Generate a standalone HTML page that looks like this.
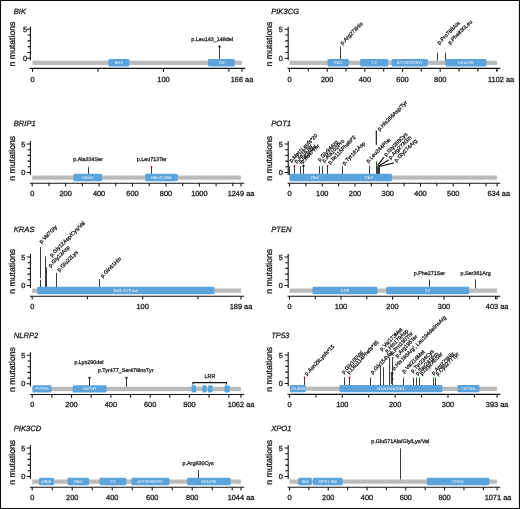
<!DOCTYPE html>
<html><head><meta charset="utf-8"><title>Lollipop plots</title>
<style>
html,body{margin:0;padding:0;background:#fff;}
svg{display:block;will-change:transform;text-rendering:geometricPrecision;font-family:"Liberation Sans",sans-serif;}
.ti{font-size:7.6px;font-style:italic;fill:#1a1a1a;stroke:#1a1a1a;stroke-width:0.3px;}
.yl{font-size:8.7px;fill:#1a1a1a;stroke:#1a1a1a;stroke-width:0.3px;}
.tk{font-size:7.4px;fill:#1a1a1a;stroke:#1a1a1a;stroke-width:0.3px;}
.lb{font-size:5.4px;fill:#1a1a1a;stroke:#1a1a1a;stroke-width:0.27px;}
.dm{font-size:4.2px;fill:#fff;fill-opacity:0.9;}
.ax{stroke:#111;stroke-width:1.08;fill:none;}
.st{stroke:#3a3a3a;stroke-width:1.05;fill:none;}
.cn{stroke:#111;stroke-width:1.15;fill:none;}
</style></head><body>
<svg width="520" height="509" viewBox="0 0 520 509">
<rect x="0" y="0" width="520" height="509" fill="#fff"/>
<g>
<text x="13.8" y="13.55" class="ti">BIK</text>
<text transform="translate(15.4,44) rotate(-90)" class="yl" text-anchor="middle">n mutations</text>
<path class="ax" d="M30.4 26.65V60.25"/>
<path class="ax" d="M30.4 58.25h-3.6M30.4 52.45h-2.9M30.4 46.65h-2.9M30.4 40.85h-2.9M30.4 35.05h-2.9M30.4 29.25h-3.6"/>
<text x="27.1" y="32.15" class="tk" text-anchor="end">5</text>
<text x="27.1" y="60.85" class="tk" text-anchor="end">0</text>
<path class="st" d="M219.5 46.65V60.85"/>
<rect x="32.5" y="60.65" width="209.5" height="4.3" fill="#bcbbbc"/>
<rect x="108.44" y="59" width="20.95" height="7.4" rx="1.3" fill="#5ba3dd"/>
<text x="118.92" y="64.2" class="dm" text-anchor="middle">BH3</text>
<rect x="207.96" y="59" width="26.84" height="7.4" rx="1.3" fill="#5ba3dd"/>
<text x="221.38" y="64.2" class="dm" text-anchor="middle">TM</text>
<circle cx="219.5" cy="46.65" r="1.15" fill="#111"/>
<path class="ax" d="M29.8 68.4H245.2"/>
<text x="32.5" y="81.85" class="tk" text-anchor="middle">0</text>
<text x="97.97" y="81.85" class="tk" text-anchor="middle"></text>
<text x="163.44" y="81.85" class="tk" text-anchor="middle">100</text>
<text x="228.91" y="81.85" class="tk" text-anchor="middle"></text>
<text x="242" y="81.85" class="tk" text-anchor="middle">166 aa</text>
<path class="ax" d="M32.5 68.4v3.3M97.97 68.4v3.3M163.44 68.4v3.3M228.91 68.4v3.3M242 68.4v3.3"/>
<text x="212" y="40.65" class="lb" text-anchor="middle">p.Leu143_148del</text>

</g>
<g>
<text x="271.2" y="13.55" class="ti">PIK3CG</text>
<text transform="translate(272.3,44) rotate(-90)" class="yl" text-anchor="middle">n mutations</text>
<path class="ax" d="M288.2 26.65V60.25"/>
<path class="ax" d="M288.2 58.25h-3.6M288.2 52.45h-2.9M288.2 46.65h-2.9M288.2 40.85h-2.9M288.2 35.05h-2.9M288.2 29.25h-3.6"/>
<text x="282.8" y="32.15" class="tk" text-anchor="end">5</text>
<text x="282.8" y="60.85" class="tk" text-anchor="end">0</text>
<path class="st" d="M340.5 46.65V60.85"/>
<path class="st" d="M437.5 52.45V60.85"/>
<path class="st" d="M445.5 52.45V60.85"/>
<rect x="289.5" y="60.65" width="207.6" height="4.3" fill="#bcbbbc"/>
<rect x="327.55" y="59" width="21.29" height="7.4" rx="1.3" fill="#5ba3dd"/>
<text x="338.2" y="64.2" class="dm" text-anchor="middle">RBD</text>
<rect x="360.14" y="59" width="28.07" height="7.4" rx="1.3" fill="#5ba3dd"/>
<text x="374.18" y="64.2" class="dm" text-anchor="middle">C2</text>
<rect x="391.6" y="59" width="36.36" height="7.4" rx="1.3" fill="#5ba3dd"/>
<text x="409.78" y="64.2" class="dm" text-anchor="middle">ACCESSORY</text>
<rect x="445.48" y="59" width="41.07" height="7.4" rx="1.3" fill="#5ba3dd"/>
<text x="466.02" y="64.2" class="dm" text-anchor="middle">KINASE</text>
<path d="M340.5 46.35v1.5" stroke="#3fa535" stroke-width="0.9" opacity="0.8"/>
<path d="M437.5 52.15v1.5" stroke="#3fa535" stroke-width="0.9" opacity="0.8"/>
<path d="M445.5 52.15v1.5" stroke="#3fa535" stroke-width="0.9" opacity="0.8"/>
<path class="ax" d="M287.6 68.4H500.3"/>
<text x="289.5" y="81.85" class="tk" text-anchor="middle">0</text>
<text x="327.18" y="81.85" class="tk" text-anchor="middle">200</text>
<text x="364.85" y="81.85" class="tk" text-anchor="middle">400</text>
<text x="402.53" y="81.85" class="tk" text-anchor="middle">600</text>
<text x="440.21" y="81.85" class="tk" text-anchor="middle">800</text>
<text x="501.1" y="81.85" class="tk" text-anchor="middle">1102 aa</text>
<path class="ax" d="M289.5 68.4v3.3M327.18 68.4v3.3M364.85 68.4v3.3M402.53 68.4v3.3M440.21 68.4v3.3M497.1 68.4v3.3M308.34 68.4v3.1M346.02 68.4v3.1M383.69 68.4v3.1M421.37 68.4v3.1M459.05 68.4v3.1M477.88 68.4v3.1M496.72 68.4v3.1"/>
<text transform="translate(342.3,45.1) rotate(-45)" class="lb">p.Arg273His</text>
<text transform="translate(439.2,44.7) rotate(-45)" class="lb">p.Pro788Ala</text>
<text transform="translate(449.9,44.7) rotate(-45)" class="lb">p.Phe830Leu</text>

</g>
<g>
<text x="13.8" y="126.4" class="ti">BRIP1</text>
<text transform="translate(15.4,158.25) rotate(-90)" class="yl" text-anchor="middle">n mutations</text>
<path class="ax" d="M30.4 140.9V175.1"/>
<path class="ax" d="M30.4 172.5h-3.6M30.4 166.8h-2.9M30.4 161.1h-2.9M30.4 155.4h-2.9M30.4 149.7h-2.9M30.4 144h-3.6"/>
<text x="25.3" y="146.9" class="tk" text-anchor="end">5</text>
<text x="25.3" y="175.1" class="tk" text-anchor="end">0</text>
<path class="st" d="M88.5 166.8V175.7"/>
<path class="st" d="M151.5 166.8V175.7"/>
<rect x="32.2" y="175.5" width="208.8" height="4.3" fill="#bcbbbc"/>
<rect x="73.49" y="173.85" width="28.59" height="7.4" rx="1.3" fill="#5ba3dd"/>
<text x="87.79" y="179.05" class="dm" text-anchor="middle">DEAD</text>
<rect x="145.21" y="173.85" width="32.43" height="7.4" rx="1.3" fill="#5ba3dd"/>
<text x="161.43" y="179.05" class="dm" text-anchor="middle">HELICASE</text>
<path d="M88.5 166.5v1.5" stroke="#3fa535" stroke-width="0.9" opacity="0.8"/>
<circle cx="151.5" cy="166.8" r="0.9" fill="#8a1538"/>
<path class="ax" d="M29.8 183.25H244.2"/>
<text x="32.2" y="196.1" class="tk" text-anchor="middle">0</text>
<text x="65.63" y="196.1" class="tk" text-anchor="middle">200</text>
<text x="99.07" y="196.1" class="tk" text-anchor="middle">400</text>
<text x="132.5" y="196.1" class="tk" text-anchor="middle">600</text>
<text x="165.94" y="196.1" class="tk" text-anchor="middle">800</text>
<text x="199.37" y="196.1" class="tk" text-anchor="middle">1000</text>
<text x="241" y="196.1" class="tk" text-anchor="middle">1249 aa</text>
<path class="ax" d="M32.2 183.25v3.3M65.63 183.25v3.3M99.07 183.25v3.3M132.5 183.25v3.3M165.94 183.25v3.3M199.37 183.25v3.3M241 183.25v3.3M48.92 183.25v3.1M82.35 183.25v3.1M115.79 183.25v3.1M149.22 183.25v3.1M182.66 183.25v3.1M216.09 183.25v3.1M232.81 183.25v3.1"/>
<text x="88" y="160.65" class="lb" text-anchor="middle">p.Ala334Ser</text>
<text x="151.8" y="160.65" class="lb" text-anchor="middle">p.Leu713Ter</text>

</g>
<g>
<text x="271.2" y="126.2" class="ti">POT1</text>
<text transform="translate(272.3,158.25) rotate(-90)" class="yl" text-anchor="middle">n mutations</text>
<path class="ax" d="M288.2 140.9V175.1"/>
<path class="ax" d="M288.2 172.5h-3.6M288.2 166.8h-2.9M288.2 161.1h-2.9M288.2 155.4h-2.9M288.2 149.7h-2.9M288.2 144h-3.6"/>
<text x="282.8" y="146.9" class="tk" text-anchor="end">5</text>
<text x="282.8" y="175.1" class="tk" text-anchor="end">0</text>
<path class="st" d="M289.5 165.94V175.7"/>
<path class="st" d="M294.5 165.94V175.7"/>
<path class="st" d="M300.5 165.94V175.7"/>
<path class="st" d="M303.5 165.94V175.7"/>
<path class="st" d="M319.5 165.94V175.7"/>
<path class="st" d="M322.5 165.94V175.7"/>
<path class="st" d="M327.5 165.94V175.7"/>
<path class="st" d="M342.5 165.94V175.7"/>
<path class="st" d="M369.5 165.94V175.7"/>
<path class="st" d="M376.5 161.1V175.7"/>
<path class="st" d="M377.5 165.94V175.7"/>
<path class="st" d="M378.5 165.94V175.7"/>
<path class="st" d="M379.5 165.94V175.7"/>
<rect x="289.5" y="175.5" width="207.6" height="4.3" fill="#bcbbbc"/>
<rect x="289.5" y="173.85" width="102.49" height="7.4" rx="1.3" fill="#5ba3dd"/>
<path d="M289.5 165.64v1.5" stroke="#3fa535" stroke-width="0.9" opacity="0.8"/>
<circle cx="294.5" cy="165.94" r="0.9" fill="#8a1538"/>
<path d="M300.5 165.64v1.5" stroke="#3fa535" stroke-width="0.9" opacity="0.8"/>
<circle cx="303.5" cy="165.94" r="1.15" fill="#111"/>
<path d="M319.5 165.64v1.5" stroke="#3fa535" stroke-width="0.9" opacity="0.8"/>
<path d="M322.5 165.64v1.5" stroke="#3fa535" stroke-width="0.9" opacity="0.8"/>
<circle cx="327.5" cy="165.94" r="0.9" fill="#8a1538"/>
<path d="M342.5 165.64v1.5" stroke="#3fa535" stroke-width="0.9" opacity="0.8"/>
<path d="M369.5 165.64v1.5" stroke="#3fa535" stroke-width="0.9" opacity="0.8"/>
<path d="M376.5 160.8v1.5" stroke="#3fa535" stroke-width="0.9" opacity="0.8"/>
<path d="M377.5 165.64v1.5" stroke="#3fa535" stroke-width="0.9" opacity="0.8"/>
<path d="M378.5 165.64v1.5" stroke="#3fa535" stroke-width="0.9" opacity="0.8"/>
<path d="M379.5 165.64v1.5" stroke="#3fa535" stroke-width="0.9" opacity="0.8"/>
<path class="ax" d="M287.6 183.25H500.3"/>
<text x="289.5" y="196.1" class="tk" text-anchor="middle">0</text>
<text x="322.24" y="196.1" class="tk" text-anchor="middle">100</text>
<text x="354.99" y="196.1" class="tk" text-anchor="middle">200</text>
<text x="387.73" y="196.1" class="tk" text-anchor="middle">300</text>
<text x="420.48" y="196.1" class="tk" text-anchor="middle">400</text>
<text x="453.22" y="196.1" class="tk" text-anchor="middle">500</text>
<text x="498.8" y="196.1" class="tk" text-anchor="middle">634 aa</text>
<path class="ax" d="M289.5 183.25v3.3M322.24 183.25v3.3M354.99 183.25v3.3M387.73 183.25v3.3M420.48 183.25v3.3M453.22 183.25v3.3M497.1 183.25v3.3M305.87 183.25v3.1M338.62 183.25v3.1M371.36 183.25v3.1M404.11 183.25v3.1M436.85 183.25v3.1M469.59 183.25v3.1M485.97 183.25v3.1"/>
<text transform="translate(291.2,162.6) rotate(-45)" class="lb">p.Met1Leufs*20</text>
<text transform="translate(296.2,163.2) rotate(-45)" class="lb">p.Ile16Ter</text>
<text transform="translate(300.4,163.6) rotate(-45)" class="lb">p.Ile35Val</text>
<text transform="translate(302.8,163.6) rotate(-45)" class="lb">p.Ile47Thr</text>
<text transform="translate(319.7,161.8) rotate(-46)" class="lb">p.Gly94Arg</text>
<text transform="translate(324.2,162.8) rotate(-46)" class="lb">p.Ala102Pro</text>
<text transform="translate(330,164.6) rotate(-46)" class="lb">p.Ile115Phefs*2</text>
<text transform="translate(344.2,165.2) rotate(-45)" class="lb">p.Tyr161Asp</text>
<text transform="translate(368.2,163) rotate(-45)" class="lb">p.Leu244Phe</text>
<text transform="translate(379.5,131) rotate(-45)" class="lb">p.His266Asp/Tyr</text>
<text transform="translate(386,156.5) rotate(-45)" class="lb">p.Gly268Cys</text>
<text transform="translate(390.5,159.4) rotate(-45)" class="lb">p.Arg273Gln</text>
<text transform="translate(396.2,162.3) rotate(-45)" class="lb">p.Gly274Arg</text>
<path class="cn" d="M376.3 144.8V130.6"/><path class="cn" d="M377.7 165.4L384 157.2M378.5 166L388.6 159.9M379.5 166.5L393.8 162.9"/><text x="315" y="179.1" class="dm" text-anchor="middle">OB1</text><text x="368.7" y="179.1" class="dm" text-anchor="middle">OB2</text>
</g>
<g>
<text x="13.8" y="232.05" class="ti">KRAS</text>
<text transform="translate(15.4,271.25) rotate(-90)" class="yl" text-anchor="middle">n mutations</text>
<path class="ax" d="M30.4 253.9V288.1"/>
<path class="ax" d="M30.4 285.5h-3.6M30.4 279.8h-2.9M30.4 274.1h-2.9M30.4 268.4h-2.9M30.4 262.7h-2.9M30.4 257h-3.6"/>
<text x="25.3" y="259.9" class="tk" text-anchor="end">5</text>
<text x="25.3" y="288.1" class="tk" text-anchor="end">0</text>
<path class="st" d="M40.5 247.03V288.7"/>
<path class="st" d="M45.5 256.43V288.7"/>
<path class="st" d="M46.5 267.55V288.7"/>
<path class="st" d="M56.5 272.96V288.7"/>
<path class="st" d="M99.5 279.23V288.7"/>
<rect x="32.2" y="288.5" width="208.8" height="4.3" fill="#bcbbbc"/>
<rect x="37.17" y="286.85" width="177.31" height="7.4" rx="1.3" fill="#5ba3dd"/>
<text x="125.83" y="292.05" class="dm" text-anchor="middle">RAS GTPase</text>
<circle cx="40.5" cy="278.94" r="0.9" fill="#fff"/>
<path d="M45.5 256.13v1.5" stroke="#3fa535" stroke-width="0.9" opacity="0.8"/>
<path class="ax" d="M29.8 296.25H244.2"/>
<text x="32.2" y="309.1" class="tk" text-anchor="middle">0</text>
<text x="142.68" y="309.1" class="tk" text-anchor="middle">100</text>
<text x="241" y="309.1" class="tk" text-anchor="middle">189 aa</text>
<path class="ax" d="M32.2 296.25v3.3M142.68 296.25v3.3M241 296.25v3.3M87.44 296.25v3.1M197.91 296.25v3.1"/>
<text transform="translate(41.2,243.8) rotate(-45)" class="lb">p.Val7Gly</text>
<text transform="translate(51.8,257) rotate(-45)" class="lb">p.Gly12Asp/Cys/Val</text>
<text transform="translate(50.4,267.4) rotate(-45)" class="lb">p.Gly13Asp</text>
<text transform="translate(59.2,271.8) rotate(-45)" class="lb">p.Glu22Lys</text>
<text transform="translate(102.6,278) rotate(-45)" class="lb">p.Gln61His</text>

</g>
<g>
<text x="271.2" y="232.05" class="ti">PTEN</text>
<text transform="translate(272.3,271.25) rotate(-90)" class="yl" text-anchor="middle">n mutations</text>
<path class="ax" d="M288.2 253.9V288.1"/>
<path class="ax" d="M288.2 285.5h-3.6M288.2 279.8h-2.9M288.2 274.1h-2.9M288.2 268.4h-2.9M288.2 262.7h-2.9M288.2 257h-3.6"/>
<text x="282.8" y="259.9" class="tk" text-anchor="end">5</text>
<text x="282.8" y="288.1" class="tk" text-anchor="end">0</text>
<path class="st" d="M429.5 279.51V288.7"/>
<path class="st" d="M475.5 279.51V288.7"/>
<rect x="289.5" y="288.5" width="207.6" height="4.3" fill="#bcbbbc"/>
<rect x="312.48" y="286.85" width="64.91" height="7.4" rx="1.3" fill="#5ba3dd"/>
<text x="344.93" y="292.05" class="dm" text-anchor="middle">DSP</text>
<rect x="386.14" y="286.85" width="83.14" height="7.4" rx="1.3" fill="#5ba3dd"/>
<text x="427.71" y="292.05" class="dm" text-anchor="middle">C2</text>
<path class="ax" d="M287.6 296.25H500.3"/>
<text x="289.5" y="309.1" class="tk" text-anchor="middle">0</text>
<text x="341.01" y="309.1" class="tk" text-anchor="middle">100</text>
<text x="392.53" y="309.1" class="tk" text-anchor="middle">200</text>
<text x="444.04" y="309.1" class="tk" text-anchor="middle">300</text>
<text x="497.1" y="309.1" class="tk" text-anchor="middle">403 aa</text>
<path class="ax" d="M289.5 296.25v3.3M341.01 296.25v3.3M392.53 296.25v3.3M444.04 296.25v3.3M497.1 296.25v3.3M315.26 296.25v3.1M366.77 296.25v3.1M418.28 296.25v3.1M469.8 296.25v3.1M495.55 296.25v3.1"/>
<text x="429.4" y="275.15" class="lb" text-anchor="middle">p.Phe271Ser</text>
<text x="475.6" y="275.15" class="lb" text-anchor="middle">p.Ser361Arg</text>

</g>
<g>
<text x="13.8" y="338.3" class="ti">NLRP2</text>
<text transform="translate(15.4,369.55) rotate(-90)" class="yl" text-anchor="middle">n mutations</text>
<path class="ax" d="M30.4 352.2V386.4"/>
<path class="ax" d="M30.4 383.8h-3.6M30.4 378.1h-2.9M30.4 372.4h-2.9M30.4 366.7h-2.9M30.4 361h-2.9M30.4 355.3h-3.6"/>
<text x="25.3" y="358.2" class="tk" text-anchor="end">5</text>
<text x="25.3" y="386.4" class="tk" text-anchor="end">0</text>
<path class="st" d="M89.5 377.81V387"/>
<path class="st" d="M126.5 377.81V387"/>
<rect x="32.2" y="386.8" width="208.8" height="4.3" fill="#bcbbbc"/>
<rect x="32.59" y="385.15" width="18.87" height="7.4" rx="1.3" fill="#5ba3dd"/>
<text x="42.03" y="390.35" class="dm" text-anchor="middle">PYRIN</text>
<rect x="72.7" y="385.15" width="33.82" height="7.4" rx="1.3" fill="#5ba3dd"/>
<text x="89.61" y="390.35" class="dm" text-anchor="middle">NACHT</text>
<rect x="191.65" y="385.15" width="4.33" height="7.4" rx="1.3" fill="#5ba3dd"/>
<rect x="202.46" y="385.15" width="4.13" height="7.4" rx="1.3" fill="#5ba3dd"/>
<rect x="207.97" y="385.15" width="4.52" height="7.4" rx="1.3" fill="#5ba3dd"/>
<rect x="224.48" y="385.15" width="5.11" height="7.4" rx="1.3" fill="#5ba3dd"/>
<circle cx="89.5" cy="377.81" r="1.15" fill="#111"/>
<circle cx="126.5" cy="377.81" r="1.15" fill="#111"/>
<path class="ax" d="M29.8 394.55H244.2"/>
<text x="32.2" y="407.4" class="tk" text-anchor="middle">0</text>
<text x="71.52" y="407.4" class="tk" text-anchor="middle">200</text>
<text x="110.84" y="407.4" class="tk" text-anchor="middle">400</text>
<text x="150.17" y="407.4" class="tk" text-anchor="middle">600</text>
<text x="189.49" y="407.4" class="tk" text-anchor="middle">800</text>
<text x="241" y="407.4" class="tk" text-anchor="middle">1062 aa</text>
<path class="ax" d="M32.2 394.55v3.3M71.52 394.55v3.3M110.84 394.55v3.3M150.17 394.55v3.3M189.49 394.55v3.3M241 394.55v3.3M51.86 394.55v3.1M91.18 394.55v3.1M130.51 394.55v3.1M169.83 394.55v3.1M209.15 394.55v3.1M228.81 394.55v3.1"/>
<text x="89" y="364.4" class="lb" text-anchor="middle">p.Lys290del</text>
<text x="125.6" y="372.4" class="lb" text-anchor="middle">p.Tyr477_Ser478insTyr</text>
<path class="cn" d="M193 384.6V382.6H226.5V384.6M210 382.6V381.2"/><text x="210" y="377.7" class="lb" text-anchor="middle">LRR</text>
</g>
<g>
<text x="271.2" y="338.2" class="ti">TP53</text>
<text transform="translate(272.3,369.25) rotate(-90)" class="yl" text-anchor="middle">n mutations</text>
<path class="ax" d="M288.2 351.9V386.2"/>
<path class="ax" d="M288.2 383.5h-3.6M288.2 377.8h-2.9M288.2 372.1h-2.9M288.2 366.4h-2.9M288.2 360.7h-2.9M288.2 355h-3.6"/>
<text x="282.8" y="357.9" class="tk" text-anchor="end">5</text>
<text x="282.8" y="386.1" class="tk" text-anchor="end">0</text>
<path class="st" d="M304.5 377.51V386.8"/>
<path class="st" d="M344.5 377.51V386.8"/>
<path class="st" d="M349.5 377.51V386.8"/>
<path class="st" d="M370.5 377.51V386.8"/>
<path class="st" d="M380.5 367.82V386.8"/>
<path class="st" d="M383.5 367.25V386.8"/>
<path class="st" d="M389.5 372.1V386.8"/>
<path class="st" d="M392.5 372.1V386.8"/>
<path class="st" d="M403.5 377.51V386.8"/>
<path class="st" d="M413.5 377.51V386.8"/>
<path class="st" d="M416.5 377.51V386.8"/>
<path class="st" d="M419.5 377.51V386.8"/>
<path class="st" d="M433.5 377.51V386.8"/>
<path class="st" d="M435.5 377.51V386.8"/>
<rect x="289.5" y="386.6" width="207.6" height="4.3" fill="#bcbbbc"/>
<rect x="290.03" y="384.95" width="15.74" height="7.4" rx="1.3" fill="#5ba3dd"/>
<text x="297.9" y="390.15" class="dm" text-anchor="middle">TRANS</text>
<rect x="339.47" y="384.95" width="103.01" height="7.4" rx="1.3" fill="#5ba3dd"/>
<text x="390.98" y="390.15" class="dm" text-anchor="middle">DNA BINDING</text>
<rect x="457.48" y="384.95" width="21.97" height="7.4" rx="1.3" fill="#5ba3dd"/>
<text x="468.47" y="390.15" class="dm" text-anchor="middle">TETRA</text>
<circle cx="304.5" cy="377.51" r="0.9" fill="#8a1538"/>
<path d="M344.5 377.21v1.5" stroke="#3fa535" stroke-width="0.9" opacity="0.8"/>
<circle cx="349.5" cy="377.51" r="0.9" fill="#8a1538"/>
<path d="M370.5 377.21v1.5" stroke="#3fa535" stroke-width="0.9" opacity="0.8"/>
<path d="M403.5 377.21v1.5" stroke="#3fa535" stroke-width="0.9" opacity="0.8"/>
<path d="M413.5 377.21v1.5" stroke="#3fa535" stroke-width="0.9" opacity="0.8"/>
<path d="M416.5 377.21v1.5" stroke="#3fa535" stroke-width="0.9" opacity="0.8"/>
<path d="M419.5 377.21v1.5" stroke="#3fa535" stroke-width="0.9" opacity="0.8"/>
<path d="M433.5 377.21v1.5" stroke="#3fa535" stroke-width="0.9" opacity="0.8"/>
<path d="M435.5 377.21v1.5" stroke="#3fa535" stroke-width="0.9" opacity="0.8"/>
<path class="ax" d="M287.6 394.35H500.3"/>
<text x="289.5" y="407.1" class="tk" text-anchor="middle">0</text>
<text x="342.32" y="407.1" class="tk" text-anchor="middle">100</text>
<text x="395.15" y="407.1" class="tk" text-anchor="middle">200</text>
<text x="447.97" y="407.1" class="tk" text-anchor="middle">300</text>
<text x="497.1" y="407.1" class="tk" text-anchor="middle">393 aa</text>
<path class="ax" d="M289.5 394.35v3.3M342.32 394.35v3.3M395.15 394.35v3.3M447.97 394.35v3.3M497.1 394.35v3.3M315.91 394.35v3.1M368.74 394.35v3.1M421.56 394.35v3.1M474.39 394.35v3.1"/>
<text transform="translate(306.8,375.7) rotate(-46)" class="lb">p.Asn29Lysfs*15</text>
<text transform="translate(343.8,374) rotate(-47)" class="lb">p.Gly105Val</text>
<text transform="translate(349,374.6) rotate(-47)" class="lb">p.Leu114Phefs*35</text>
<text transform="translate(372.6,374.2) rotate(-45)" class="lb">p.Gly154Val</text>
<text transform="translate(381.8,351) rotate(-45)" class="lb">p.Val173Met</text>
<text transform="translate(387,352.9) rotate(-45)" class="lb">p.His179Asp</text>
<text transform="translate(392.2,355.1) rotate(-45)" class="lb">p.Pro190Thr</text>
<text transform="translate(397.2,357.7) rotate(-45)" class="lb">p.Arg196Ter</text>
<text transform="translate(394,370.3) rotate(-45)" class="lb">p.His193Arg', Leu194delinsArg</text>
<text transform="translate(404,373.2) rotate(-45)" class="lb">p.Val216Met</text>
<text transform="translate(412.8,373) rotate(-45)" class="lb">p.Tyr234Cys</text>
<text transform="translate(417.4,375.6) rotate(-45)" class="lb">p.Ser241Pro</text>
<text transform="translate(421.9,375.6) rotate(-45)" class="lb">p.Gly245Ser</text>
<text transform="translate(433.6,375) rotate(-45)" class="lb">p.Arg273His</text>
<text transform="translate(437.8,375.9) rotate(-45)" class="lb">p.Cys277Tyr</text>
<path class="st" d="M389.6 375V357.7M392.5 375V357M391.4 384V372"/><circle cx="392.5" cy="373.5" r="1" fill="#222"/><circle cx="392.5" cy="379" r="1" fill="#222"/>
</g>
<g>
<text x="13.8" y="431.3" class="ti">PIK3CD</text>
<text transform="translate(15.4,462.25) rotate(-90)" class="yl" text-anchor="middle">n mutations</text>
<path class="ax" d="M30.4 444.9V479.1"/>
<path class="ax" d="M30.4 476.5h-3.6M30.4 470.8h-2.9M30.4 465.1h-2.9M30.4 459.4h-2.9M30.4 453.7h-2.9M30.4 448h-3.6"/>
<text x="25.3" y="450.9" class="tk" text-anchor="end">5</text>
<text x="25.3" y="479.1" class="tk" text-anchor="end">0</text>
<path class="st" d="M198.5 470.23V479.7"/>
<rect x="32.2" y="479.5" width="208.8" height="4.3" fill="#bcbbbc"/>
<rect x="39" y="477.85" width="15" height="7.4" rx="1.3" fill="#5ba3dd"/>
<text x="46.5" y="483.05" class="dm" text-anchor="middle">p85B</text>
<rect x="67.6" y="477.85" width="21.4" height="7.4" rx="1.3" fill="#5ba3dd"/>
<text x="78.3" y="483.05" class="dm" text-anchor="middle">RBD</text>
<rect x="99.6" y="477.85" width="26.8" height="7.4" rx="1.3" fill="#5ba3dd"/>
<text x="113" y="483.05" class="dm" text-anchor="middle">C2</text>
<rect x="131.4" y="477.85" width="38" height="7.4" rx="1.3" fill="#5ba3dd"/>
<text x="150.4" y="483.05" class="dm" text-anchor="middle">ACCESSORY</text>
<rect x="187.2" y="477.85" width="43.4" height="7.4" rx="1.3" fill="#5ba3dd"/>
<text x="208.9" y="483.05" class="dm" text-anchor="middle">KINASE</text>
<path class="ax" d="M29.8 487.25H244.2"/>
<text x="32.2" y="500.1" class="tk" text-anchor="middle">0</text>
<text x="72.2" y="500.1" class="tk" text-anchor="middle">200</text>
<text x="112.2" y="500.1" class="tk" text-anchor="middle">400</text>
<text x="152.2" y="500.1" class="tk" text-anchor="middle">600</text>
<text x="192.2" y="500.1" class="tk" text-anchor="middle">800</text>
<text x="241" y="500.1" class="tk" text-anchor="middle">1044 aa</text>
<path class="ax" d="M32.2 487.25v3.3M72.2 487.25v3.3M112.2 487.25v3.3M152.2 487.25v3.3M192.2 487.25v3.3M241 487.25v3.3M52.2 487.25v3.1M92.2 487.25v3.1M132.2 487.25v3.1M172.2 487.25v3.1M212.2 487.25v3.1M232.2 487.25v3.1"/>
<text x="198.1" y="465.4" class="lb" text-anchor="middle">p.Arg830Cys</text>

</g>
<g>
<text x="271.2" y="431.3" class="ti">XPO1</text>
<text transform="translate(272.3,462.25) rotate(-90)" class="yl" text-anchor="middle">n mutations</text>
<path class="ax" d="M288.2 444.9V479.1"/>
<path class="ax" d="M288.2 476.5h-3.6M288.2 470.8h-2.9M288.2 465.1h-2.9M288.2 459.4h-2.9M288.2 453.7h-2.9M288.2 448h-3.6"/>
<text x="282.8" y="450.9" class="tk" text-anchor="end">5</text>
<text x="282.8" y="479.1" class="tk" text-anchor="end">0</text>
<path class="st" d="M400.5 448.28V479.7"/>
<rect x="289.5" y="479.5" width="207.6" height="4.3" fill="#bcbbbc"/>
<rect x="298.22" y="477.85" width="13.57" height="7.4" rx="1.3" fill="#5ba3dd"/>
<text x="305.01" y="483.05" class="dm" text-anchor="middle">IBN</text>
<rect x="312.95" y="477.85" width="29.56" height="7.4" rx="1.3" fill="#5ba3dd"/>
<text x="327.73" y="483.05" class="dm" text-anchor="middle">XPO1-like</text>
<rect x="426.74" y="477.85" width="62.61" height="7.4" rx="1.3" fill="#5ba3dd"/>
<text x="458.04" y="483.05" class="dm" text-anchor="middle">CRM1</text>
<path class="ax" d="M287.6 487.25H500.3"/>
<text x="289.5" y="500.1" class="tk" text-anchor="middle">0</text>
<text x="328.27" y="500.1" class="tk" text-anchor="middle">200</text>
<text x="367.04" y="500.1" class="tk" text-anchor="middle">400</text>
<text x="405.8" y="500.1" class="tk" text-anchor="middle">600</text>
<text x="444.57" y="500.1" class="tk" text-anchor="middle">800</text>
<text x="498" y="500.1" class="tk" text-anchor="middle">1071 aa</text>
<path class="ax" d="M289.5 487.25v3.3M328.27 487.25v3.3M367.04 487.25v3.3M405.8 487.25v3.3M444.57 487.25v3.3M497.1 487.25v3.3M308.88 487.25v3.1M347.65 487.25v3.1M386.42 487.25v3.1M425.19 487.25v3.1M463.95 487.25v3.1M483.34 487.25v3.1"/>
<text x="400.25" y="443.4" class="lb" text-anchor="middle">p.Glu571Ala/Gly/Lys/Val</text>

</g>
<path d="M0.5 0V509M0 0.5H520M519.45 0V509M0 508.5H520" stroke="#0a0a0a" stroke-width="1.1" fill="none"/>
</svg>
</body></html>
